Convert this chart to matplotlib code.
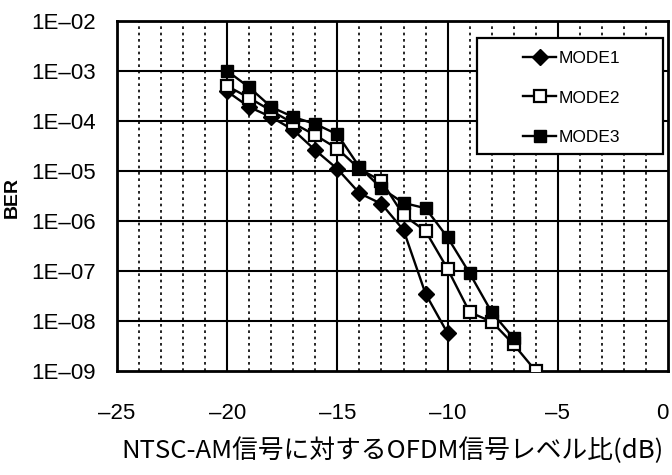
import matplotlib
matplotlib.use("Agg")
import matplotlib.pyplot as plt
import matplotlib.transforms as mtransforms
from matplotlib.patches import Rectangle
import numpy as np

plt.rcParams['font.family'] = ['Liberation Sans', 'DejaVu Sans']

# BER measurements versus OFDM/NTSC-AM level ratio (dB)
x_mode1 = [-20, -19, -18, -17, -16, -15, -14, -13, -12, -11, -10]
ber_mode1 = [3.9e-4, 1.9e-4, 1.2e-4, 6.6e-5, 2.6e-5, 1.1e-5, 3.6e-6, 2.2e-6, 6.6e-7, 3.5e-8, 5.7e-9]

x_mode2 = [-20, -19, -18, -17, -16, -15, -14, -13, -12, -11, -10, -9, -8, -7, -6]
ber_mode2 = [5.0e-4, 2.9e-4, 1.6e-4, 9.0e-5, 5.2e-5, 2.8e-5, 1.1e-5, 6.3e-6, 1.3e-6, 6.3e-7, 1.1e-7, 1.5e-8, 9.7e-9, 3.4e-9, 1.0e-9]

x_mode3 = [-20, -19, -18, -17, -16, -15, -14, -13, -12, -11, -10, -9, -8, -7]
ber_mode3 = [1.0e-3, 4.7e-4, 1.9e-4, 1.2e-4, 8.7e-5, 5.4e-5, 1.2e-5, 4.5e-6, 2.3e-6, 1.8e-6, 4.7e-7, 9.0e-8, 1.5e-8, 4.5e-9]

x_ticks = [-25, -20, -15, -10, -5, 0]
x_tick_labels = ['\u201325', '\u201320', '\u201315', '\u201310', '\u20135', '0']
y_ticks = [1e-9, 1e-8, 1e-7, 1e-6, 1e-5, 1e-4, 1e-3, 1e-2]
y_tick_labels = ['1E\u201309', '1E\u201308', '1E\u201307', '1E\u201306',
                 '1E\u201305', '1E\u201304', '1E\u201303', '1E\u201302']

W, H = 672, 475
fig = plt.figure(figsize=(W / 100, H / 100), dpi=100)
ax = fig.add_axes([117 / W, 104 / H, 551 / W, 350 / H])

ax.set_yscale('log')
ax.set_xlim(-25, 0)
ax.set_ylim(1e-9, 1e-2)

# dotted 1 dB grid, solid 5 dB / decade grid
for xm in np.arange(-24, 0, 1):
    if xm % 5 != 0:
        ax.axvline(xm, color='black', lw=1.2, linestyle=(0, (1.6, 2.2)), zorder=1)
for xv in x_ticks[1:-1]:
    ax.axvline(xv, color='black', lw=1.5, zorder=1)
for yv in y_ticks[1:-1]:
    ax.axhline(yv, color='black', lw=1.5, zorder=1)

ax.plot(x_mode1, ber_mode1, color='black', lw=1.7, marker='D', markersize=8,
        markerfacecolor='black', markeredgecolor='black', label='MODE1', zorder=3)
ax.plot(x_mode2, ber_mode2, color='black', lw=1.7, marker='s', markersize=9,
        markerfacecolor='white', markeredgecolor='black', markeredgewidth=1.6,
        label='MODE2', zorder=4)
ax.plot(x_mode3, ber_mode3, color='black', lw=1.7, marker='s', markersize=8,
        markerfacecolor='black', markeredgecolor='black', label='MODE3', zorder=5)

ax.set_xticks(x_ticks)
ax.set_xticklabels(x_tick_labels)
ax.set_yticks(y_ticks)
ax.set_yticklabels(y_tick_labels)
ax.minorticks_off()
ax.tick_params(axis='both', length=0, labelsize=16)
ax.tick_params(axis='x', pad=23)
ax.tick_params(axis='y', pad=15)

# keep the right-most "0" inside the figure
last = ax.get_xticklabels()[-1]
last.set_transform(last.get_transform() +
                   mtransforms.ScaledTranslation(-6 / 100, 0, fig.dpi_scale_trans))

for s in ax.spines.values():
    s.set_linewidth(2.0)
    s.set_color('black')

fig.text(12 / W, 1 - 197 / H, 'BER', rotation=90, fontsize=14,
         fontweight='bold', ha='center', va='center')
fig.text(392 / W, 1 - 451 / H, 'NTSC-AM信号に対するOFDM信号レベル比(dB)',
         fontsize=18.5, family=['Noto Sans CJK JP', 'DejaVu Sans'],
         ha='center', va='center')

# legend box
box = Rectangle((477 / W, 1 - 154 / H), (663 - 477) / W, (154 - 38) / H,
                transform=fig.transFigure, facecolor='white',
                edgecolor='black', lw=1.6, zorder=9, clip_on=False)
ax.add_patch(box)
leg = ax.legend(loc='center', bbox_to_anchor=(572 / W, 1 - 98 / H),
                bbox_transform=fig.transFigure, frameon=False,
                fontsize=12.5, handlelength=1.9, labelspacing=1.4,
                borderpad=0.2, handletextpad=0.15)
leg.set_zorder(11)

fig.savefig('out.png', dpi=100)
